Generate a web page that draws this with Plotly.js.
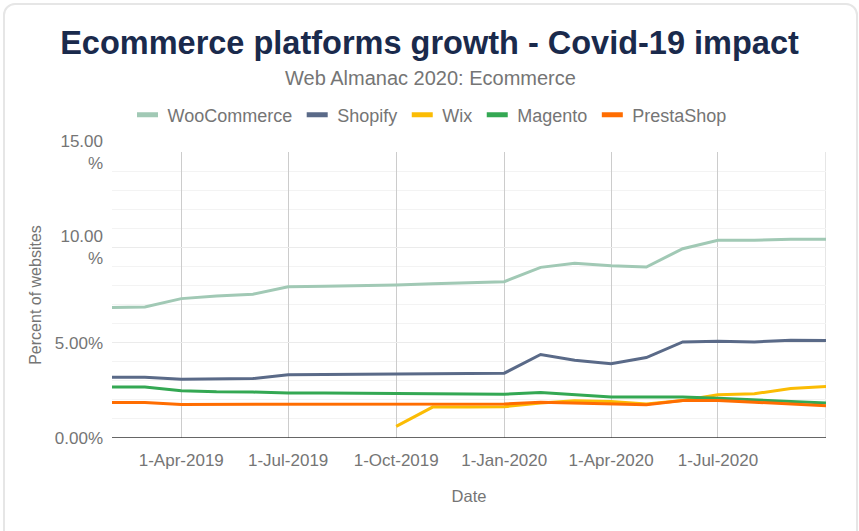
<!DOCTYPE html>
<html>
<head>
<meta charset="utf-8">
<script src="https://cdn.plot.ly/plotly-3.0.1.min.js"></script>
<style>
html,body{margin:0;padding:0;background:#fff;}
#wrap{position:relative;width:859px;height:531px;overflow:hidden;}
#chart{position:absolute;left:0;top:0;width:859px;height:531px;}
#frame{position:absolute;left:3px;top:3px;width:851px;height:540px;border:2px solid #e6e6e6;border-radius:12px;pointer-events:none;}
</style>
</head>
<body>
<div id="wrap"><div id="chart"></div><div id="frame"></div></div>
<script>
const dates = ["2019-02-01","2019-03-01","2019-04-01","2019-05-01","2019-06-01","2019-07-01","2019-08-01","2019-09-01","2019-10-01","2019-11-01","2019-12-01",
  "2020-01-01","2020-02-01","2020-03-01","2020-04-01","2020-05-01","2020-06-01","2020-07-01","2020-08-01","2020-09-01","2020-10-01"];
const seriesNames = ["WooCommerce","Shopify","Wix","Magento","PrestaShop"];
const woocommerce = [6.84,6.87,7.31,7.45,7.54,7.93,7.96,7.99,8.03,8.09,8.13,8.20,8.95,9.16,9.04,8.97,9.93,10.37,10.37,10.43,10.43];
const shopify = [3.19,3.19,3.08,3.10,3.12,3.32,3.33,3.34,3.35,3.36,3.37,3.40,4.38,4.08,3.89,4.22,5.04,5.08,5.04,5.13,5.12];
const wix = [null,null,null,null,null,null,null,null,0.61,1.62,1.62,1.64,1.83,1.95,1.92,1.78,1.97,2.27,2.32,2.60,2.70];
const magento = [2.68,2.68,2.48,2.42,2.41,2.36,2.36,2.35,2.34,2.33,2.31,2.30,2.39,2.27,2.15,2.15,2.15,2.09,2.00,1.88,1.83];
const prestashop = [1.86,1.86,1.76,1.76,1.76,1.79,1.79,1.79,1.79,1.78,1.78,1.78,1.88,1.83,1.78,1.74,1.97,1.97,1.88,1.78,1.69];
const colors = ["#a1c9b5","#5a6a88","#fbbc04","#34a853","#ff6d01"];
const xTickVals = ["2019-04-01","2019-07-01","2019-10-01","2020-01-01","2020-04-01","2020-07-01"];
const xTickText = ["1-Apr-2019","1-Jul-2019","1-Oct-2019","1-Jan-2020","1-Apr-2020","1-Jul-2020"];
const yTickVals = [0,5,10,15];
const yTickText = ["0.00%","5.00%","10.00<br>%","15.00<br>%"];

const values = [woocommerce, shopify, wix, magento, prestashop];
const traces = values.map((v,i)=>({
  x: dates, y: v, name: seriesNames[i], type: 'scatter', mode: 'lines',
  line: {color: colors[i], width: 3}, connectgaps: false, showlegend: false,
  hovertemplate: '%{y:.2f}%<extra>'+seriesNames[i]+'</extra>'
}));
// legend-only entries with short rectangular swatches
seriesNames.forEach((n,i)=>traces.push({
  x: [null], y: [null], name: n, type: 'scatter', mode: 'markers', showlegend: true, hoverinfo: 'skip',
  marker: {symbol: 'line-ew-open', size: 15, color: colors[i], line: {color: colors[i], width: 6}}
}));

const font = "'Liberation Sans', Arial, sans-serif";
const grey = '#757575';
const layout = {
  width: 859, height: 531,
  paper_bgcolor: 'rgba(0,0,0,0)', plot_bgcolor: '#fff',
  margin: {l: 112, r: 33, t: 152, b: 93},
  font: {family: font, color: grey, size: 16},
  title: {text: '<b>Ecommerce platforms growth - Covid-19 impact</b>', font: {family: font, size: 32.5, color: '#1a2a4c'},
          x: 0.5, xref: 'container', xanchor: 'center', y: 1 - 43/531, yref: 'container', yanchor: 'middle'},
  annotations: [{text: 'Web Almanac 2020: Ecommerce', showarrow: false, xref: 'paper', yref: 'paper',
    x: (430-112)/714, xanchor: 'center', y: (438-78)/286, yanchor: 'middle', font: {size: 20, color: grey, family: font}}],
  showlegend: true,
  legend: {orientation: 'h', xref: 'container', x: 0.5, xanchor: 'center', yref: 'container', y: 1 - 115/531, yanchor: 'middle',
    font: {size: 18, color: grey}, itemwidth: 30, tracegroupgap: 0},
  xaxis: {type: 'date', range: ['2019-02-01','2020-10-01'], tickvals: xTickVals, ticktext: xTickText,
    showgrid: true, gridcolor: '#cccccc', gridwidth: 1, zeroline: false, showline: false, ticks: '',
    tickfont: {size: 17, color: grey}, ticklabelstandoff: 10,
    title: {text: 'Date', font: {size: 16.5, color: grey}, standoff: 21}},
  yaxis: {range: [0, 15], tickvals: yTickVals, ticktext: yTickText, showgrid: true, gridcolor: '#ebebeb', gridwidth: 1,
    minor: {dtick: 1, showgrid: true, gridcolor: '#f3f3f3', gridwidth: 1},
    zeroline: false, showline: false, ticks: '', tickfont: {size: 17, color: grey}, ticklabelstandoff: 8,
    title: {text: 'Percent of websites', font: {size: 16, color: grey}, standoff: 9}},
  shapes: [
    {type: 'line', xref: 'paper', yref: 'y', x0: 0, x1: 1, y0: 0, y1: 0, line: {color: '#333333', width: 1.5}, layer: 'above'},
    {type: 'line', xref: 'x', yref: 'paper', x0: '2020-10-01', x1: '2020-10-01', y0: 0, y1: 1, line: {color: '#cccccc', width: 1}, layer: 'below'}
  ],
  hovermode: 'x'
};
Plotly.newPlot('chart', traces, layout, {displayModeBar: false, responsive: false});
</script>
</body>
</html>
